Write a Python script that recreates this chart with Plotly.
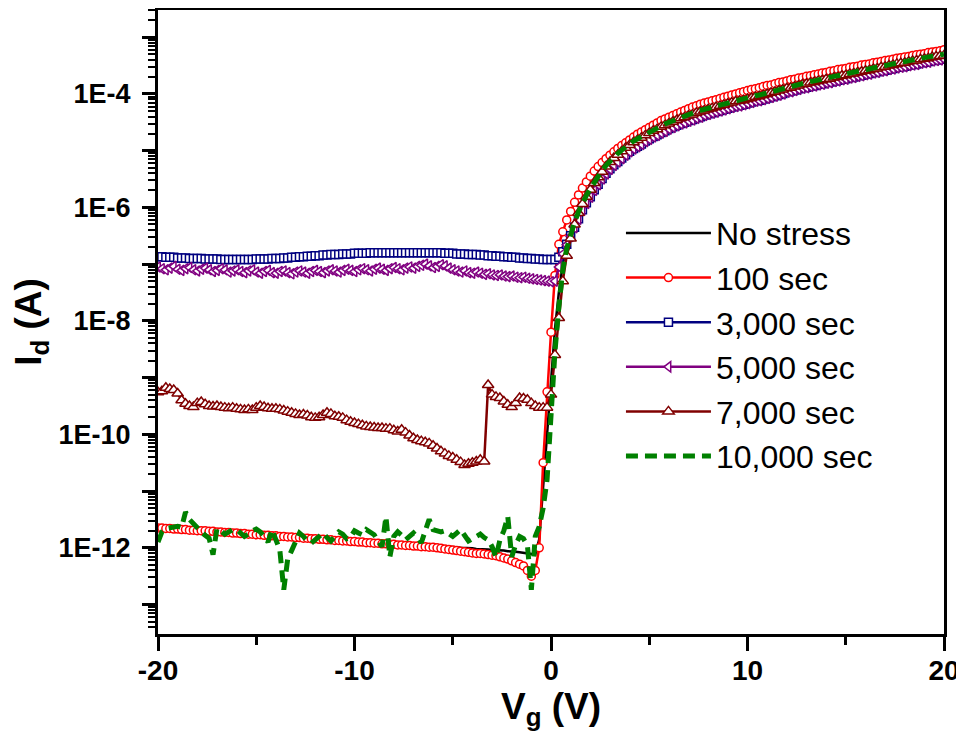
import plotly.graph_objects as go

# Gate-voltage sweep (V): -20 V to +20 V in 0.2 V steps
VG = [round(-20 + 0.2 * i, 1) for i in range(201)]

# log10(Id / A), one value per VG point
LOG_NO_STRESS = [
    -11.68,-11.68,-11.69,-11.69,-11.70,-11.70,-11.70,-11.71,-11.71,-11.72,
    -11.72,-11.72,-11.73,-11.73,-11.74,-11.74,-11.74,-11.75,-11.75,-11.76,
    -11.76,-11.76,-11.77,-11.77,-11.78,-11.78,-11.78,-11.79,-11.79,-11.80,
    -11.80,-11.80,-11.81,-11.81,-11.82,-11.82,-11.82,-11.83,-11.83,-11.84,
    -11.84,-11.84,-11.85,-11.85,-11.85,-11.86,-11.86,-11.86,-11.86,-11.86,
    -11.86,-11.87,-11.87,-11.88,-11.88,-11.89,-11.89,-11.90,-11.90,-11.91,
    -11.91,-11.92,-11.92,-11.93,-11.93,-11.94,-11.94,-11.95,-11.95,-11.96,
    -11.96,-11.97,-11.97,-11.98,-11.98,-11.99,-11.99,-12.00,-12.00,-12.01,
    -12.01,-12.02,-12.02,-12.03,-12.03,-12.04,-12.04,-12.05,-12.05,-12.06,
    -12.06,-12.07,-12.08,-12.09,-12.10,-12.11,-12.12,-11.85,-10.95,-9.95,
    -9.00,-8.15,-7.50,-7.00,-6.68,-6.45,-6.25,-6.08,-5.92,-5.79,
    -5.67,-5.55,-5.45,-5.35,-5.26,-5.18,-5.11,-5.05,-4.99,-4.93,
    -4.88,-4.83,-4.79,-4.75,-4.71,-4.67,-4.63,-4.60,-4.56,-4.53,
    -4.50,-4.47,-4.44,-4.41,-4.39,-4.36,-4.34,-4.31,-4.29,-4.27,
    -4.25,-4.23,-4.21,-4.19,-4.17,-4.15,-4.13,-4.11,-4.09,-4.08,
    -4.06,-4.04,-4.02,-4.00,-3.98,-3.96,-3.94,-3.92,-3.90,-3.88,
    -3.86,-3.85,-3.83,-3.81,-3.79,-3.78,-3.76,-3.74,-3.73,-3.71,
    -3.69,-3.68,-3.66,-3.64,-3.63,-3.61,-3.60,-3.58,-3.56,-3.55,
    -3.53,-3.52,-3.50,-3.49,-3.47,-3.45,-3.44,-3.42,-3.41,-3.39,
    -3.38,-3.36,-3.35,-3.33,-3.32,-3.30,-3.29,-3.27,-3.26,-3.24,
    -3.23,
]

LOG_100S = [
    -11.65,-11.65,-11.66,-11.66,-11.67,-11.67,-11.68,-11.68,-11.69,-11.69,
    -11.70,-11.70,-11.70,-11.71,-11.71,-11.72,-11.72,-11.73,-11.73,-11.74,
    -11.74,-11.75,-11.75,-11.76,-11.76,-11.77,-11.77,-11.78,-11.78,-11.79,
    -11.79,-11.80,-11.80,-11.81,-11.81,-11.82,-11.82,-11.83,-11.83,-11.84,
    -11.84,-11.85,-11.85,-11.86,-11.86,-11.87,-11.87,-11.88,-11.88,-11.89,
    -11.89,-11.90,-11.90,-11.91,-11.91,-11.92,-11.92,-11.93,-11.93,-11.94,
    -11.94,-11.95,-11.95,-11.96,-11.96,-11.97,-11.97,-11.98,-11.98,-11.99,
    -11.99,-12.00,-12.01,-12.02,-12.03,-12.04,-12.05,-12.06,-12.07,-12.08,
    -12.09,-12.10,-12.10,-12.11,-12.12,-12.13,-12.14,-12.16,-12.18,-12.20,
    -12.23,-12.26,-12.29,-12.32,-12.40,-12.50,-12.40,-12.00,-10.50,-9.25,
    -8.20,-7.20,-6.65,-6.43,-6.22,-6.07,-5.91,-5.78,-5.66,-5.55,
    -5.45,-5.36,-5.28,-5.21,-5.14,-5.08,-5.02,-4.96,-4.91,-4.86,
    -4.81,-4.76,-4.71,-4.67,-4.63,-4.59,-4.55,-4.51,-4.47,-4.44,
    -4.41,-4.38,-4.35,-4.32,-4.29,-4.26,-4.23,-4.21,-4.18,-4.16,
    -4.14,-4.12,-4.10,-4.08,-4.06,-4.04,-4.02,-4.00,-3.98,-3.96,
    -3.94,-3.92,-3.91,-3.89,-3.87,-3.85,-3.84,-3.82,-3.80,-3.79,
    -3.77,-3.75,-3.74,-3.72,-3.71,-3.69,-3.68,-3.66,-3.65,-3.63,
    -3.62,-3.60,-3.59,-3.57,-3.56,-3.55,-3.53,-3.52,-3.51,-3.49,
    -3.48,-3.47,-3.45,-3.44,-3.43,-3.41,-3.40,-3.39,-3.37,-3.36,
    -3.35,-3.34,-3.32,-3.31,-3.30,-3.29,-3.27,-3.26,-3.25,-3.24,
    -3.22,
]

LOG_3000S = [
    -6.87,-6.87,-6.88,-6.88,-6.88,-6.89,-6.89,-6.89,-6.90,-6.90,
    -6.90,-6.90,-6.91,-6.91,-6.91,-6.91,-6.92,-6.92,-6.92,-6.92,
    -6.92,-6.92,-6.92,-6.92,-6.92,-6.91,-6.91,-6.91,-6.91,-6.90,
    -6.90,-6.90,-6.89,-6.89,-6.88,-6.88,-6.87,-6.87,-6.86,-6.86,
    -6.85,-6.85,-6.84,-6.84,-6.83,-6.83,-6.83,-6.82,-6.82,-6.82,
    -6.81,-6.81,-6.81,-6.81,-6.80,-6.80,-6.80,-6.80,-6.80,-6.80,
    -6.80,-6.80,-6.80,-6.80,-6.80,-6.80,-6.80,-6.80,-6.80,-6.80,
    -6.80,-6.80,-6.80,-6.81,-6.81,-6.81,-6.82,-6.82,-6.82,-6.83,
    -6.83,-6.83,-6.84,-6.84,-6.85,-6.85,-6.86,-6.86,-6.87,-6.87,
    -6.88,-6.88,-6.89,-6.89,-6.90,-6.90,-6.91,-6.91,-6.92,-6.92,
    -6.92,-6.92,-6.88,-6.78,-6.65,-6.50,-6.35,-6.20,-6.04,-5.92,
    -5.81,-5.69,-5.59,-5.49,-5.40,-5.32,-5.25,-5.19,-5.13,-5.07,
    -5.01,-4.96,-4.92,-4.88,-4.83,-4.79,-4.75,-4.72,-4.68,-4.65,
    -4.61,-4.58,-4.55,-4.52,-4.50,-4.47,-4.45,-4.42,-4.40,-4.37,
    -4.35,-4.33,-4.31,-4.29,-4.27,-4.25,-4.23,-4.21,-4.20,-4.18,
    -4.16,-4.14,-4.12,-4.11,-4.09,-4.07,-4.05,-4.03,-4.01,-3.99,
    -3.96,-3.95,-3.93,-3.91,-3.89,-3.88,-3.86,-3.85,-3.83,-3.82,
    -3.80,-3.79,-3.77,-3.76,-3.74,-3.73,-3.71,-3.70,-3.68,-3.67,
    -3.65,-3.64,-3.62,-3.61,-3.59,-3.58,-3.56,-3.55,-3.53,-3.52,
    -3.51,-3.49,-3.48,-3.47,-3.45,-3.44,-3.43,-3.41,-3.40,-3.39,
    -3.38,
]

LOG_5000S = [
    -7.05,-7.08,-7.10,-7.07,-7.04,-7.09,-7.11,-7.08,-7.06,-7.10,
    -7.12,-7.09,-7.07,-7.10,-7.13,-7.11,-7.08,-7.10,-7.14,-7.12,
    -7.10,-7.13,-7.15,-7.12,-7.10,-7.14,-7.16,-7.13,-7.11,-7.15,
    -7.16,-7.13,-7.12,-7.15,-7.17,-7.14,-7.12,-7.14,-7.16,-7.13,
    -7.11,-7.13,-7.15,-7.12,-7.10,-7.12,-7.14,-7.11,-7.09,-7.11,
    -7.13,-7.10,-7.08,-7.10,-7.12,-7.09,-7.07,-7.09,-7.11,-7.08,
    -7.06,-7.08,-7.10,-7.07,-7.05,-7.07,-7.04,-7.02,-7.00,-7.03,
    -7.06,-7.04,-7.01,-7.03,-7.07,-7.10,-7.12,-7.14,-7.12,-7.15,
    -7.16,-7.14,-7.16,-7.18,-7.17,-7.19,-7.20,-7.19,-7.21,-7.22,
    -7.21,-7.23,-7.24,-7.23,-7.25,-7.26,-7.27,-7.28,-7.29,-7.30,
    -7.31,-7.30,-7.05,-6.82,-6.66,-6.51,-6.36,-6.21,-6.05,-5.93,
    -5.82,-5.70,-5.60,-5.50,-5.41,-5.33,-5.26,-5.20,-5.14,-5.08,
    -5.02,-4.97,-4.93,-4.89,-4.84,-4.80,-4.76,-4.73,-4.69,-4.66,
    -4.62,-4.59,-4.56,-4.53,-4.51,-4.48,-4.46,-4.43,-4.41,-4.38,
    -4.36,-4.34,-4.32,-4.30,-4.28,-4.26,-4.24,-4.22,-4.21,-4.19,
    -4.17,-4.15,-4.13,-4.12,-4.10,-4.08,-4.06,-4.04,-4.02,-4.00,
    -3.97,-3.96,-3.94,-3.92,-3.90,-3.89,-3.87,-3.86,-3.84,-3.83,
    -3.81,-3.80,-3.78,-3.77,-3.75,-3.74,-3.72,-3.71,-3.69,-3.68,
    -3.66,-3.65,-3.63,-3.62,-3.60,-3.59,-3.57,-3.56,-3.54,-3.53,
    -3.52,-3.50,-3.49,-3.48,-3.46,-3.45,-3.44,-3.42,-3.41,-3.40,
    -3.39,
]

LOG_7000S = [
    -9.26,-9.24,-9.18,-9.20,-9.22,-9.28,-9.40,-9.46,-9.50,-9.52,
    -9.45,-9.43,-9.47,-9.50,-9.51,-9.50,-9.52,-9.53,-9.54,-9.53,
    -9.55,-9.56,-9.57,-9.56,-9.57,-9.53,-9.50,-9.52,-9.54,-9.55,
    -9.55,-9.56,-9.58,-9.60,-9.62,-9.64,-9.66,-9.65,-9.67,-9.70,
    -9.71,-9.70,-9.66,-9.62,-9.64,-9.68,-9.69,-9.71,-9.75,-9.78,
    -9.80,-9.82,-9.84,-9.86,-9.87,-9.88,-9.89,-9.89,-9.90,-9.90,
    -9.93,-9.95,-9.92,-9.97,-10.02,-10.07,-10.10,-10.12,-10.14,-10.16,
    -10.20,-10.25,-10.30,-10.34,-10.38,-10.41,-10.45,-10.49,-10.54,-10.52,
    -10.50,-10.48,-10.45,-10.48,-9.13,-9.30,-9.34,-9.36,-9.42,-9.48,
    -9.52,-9.45,-9.36,-9.37,-9.39,-9.45,-9.50,-9.53,-9.53,-9.53,
    -9.30,-8.60,-7.95,-7.30,-6.85,-6.55,-6.30,-6.10,-5.94,-5.81,
    -5.69,-5.57,-5.47,-5.37,-5.28,-5.20,-5.13,-5.07,-5.01,-4.95,
    -4.90,-4.85,-4.81,-4.77,-4.73,-4.69,-4.65,-4.62,-4.58,-4.55,
    -4.52,-4.49,-4.46,-4.43,-4.41,-4.38,-4.36,-4.33,-4.31,-4.29,
    -4.27,-4.25,-4.23,-4.21,-4.19,-4.17,-4.15,-4.13,-4.12,-4.11,
    -4.09,-4.07,-4.05,-4.04,-4.02,-4.00,-3.98,-3.96,-3.94,-3.92,
    -3.90,-3.89,-3.87,-3.85,-3.83,-3.82,-3.80,-3.79,-3.77,-3.76,
    -3.74,-3.73,-3.71,-3.70,-3.68,-3.67,-3.65,-3.64,-3.62,-3.61,
    -3.59,-3.58,-3.56,-3.55,-3.53,-3.52,-3.50,-3.49,-3.47,-3.46,
    -3.45,-3.43,-3.42,-3.41,-3.39,-3.38,-3.37,-3.35,-3.34,-3.33,
    -3.32,
]

LOG_10000S = [
    -11.90,-11.72,-11.66,-11.65,-11.63,-11.62,-11.64,-11.37,-11.50,-11.58,
    -11.66,-11.72,-11.78,-11.83,-12.12,-11.66,-11.70,-11.76,-11.72,-11.68,
    -11.68,-11.74,-11.80,-11.76,-11.70,-11.67,-11.72,-11.80,-11.90,-11.68,
    -11.85,-12.04,-12.74,-12.20,-12.05,-11.90,-11.74,-11.80,-11.88,-11.92,
    -11.86,-11.78,-11.74,-11.82,-11.88,-11.80,-11.72,-11.76,-11.84,-11.81,
    -11.70,-11.74,-11.77,-11.68,-11.72,-11.77,-11.88,-11.98,-11.45,-12.16,
    -11.80,-11.72,-11.78,-11.86,-11.80,-11.74,-11.82,-11.91,-11.70,-11.50,
    -11.68,-11.70,-11.72,-11.70,-11.76,-11.80,-11.74,-11.68,-11.78,-11.88,
    -11.84,-11.80,-11.76,-11.82,-11.86,-11.98,-12.17,-11.86,-11.70,-11.45,
    -12.16,-11.95,-11.80,-11.84,-11.96,-12.74,-11.80,-11.63,-11.30,-10.80,
    -9.60,-8.55,-7.75,-7.10,-6.72,-6.47,-6.26,-6.08,-5.92,-5.79,
    -5.67,-5.55,-5.45,-5.35,-5.26,-5.18,-5.11,-5.05,-4.99,-4.93,
    -4.88,-4.83,-4.79,-4.75,-4.71,-4.67,-4.63,-4.60,-4.56,-4.53,
    -4.50,-4.47,-4.44,-4.41,-4.39,-4.36,-4.34,-4.31,-4.29,-4.27,
    -4.25,-4.23,-4.21,-4.19,-4.17,-4.15,-4.13,-4.11,-4.10,-4.09,
    -4.07,-4.05,-4.03,-4.02,-4.00,-3.98,-3.96,-3.94,-3.92,-3.90,
    -3.88,-3.87,-3.85,-3.83,-3.81,-3.80,-3.78,-3.77,-3.75,-3.74,
    -3.72,-3.71,-3.69,-3.68,-3.66,-3.65,-3.63,-3.62,-3.60,-3.59,
    -3.57,-3.56,-3.54,-3.53,-3.51,-3.50,-3.48,-3.47,-3.45,-3.44,
    -3.43,-3.41,-3.40,-3.39,-3.37,-3.36,-3.35,-3.33,-3.32,-3.31,
    -3.30,
]

SERIES_NAMES = ["No stress", "100 sec", "3,000 sec", "5,000 sec", "7,000 sec", "10,000 sec"]
SERIES_LOGS = [LOG_NO_STRESS, LOG_100S, LOG_3000S, LOG_5000S, LOG_7000S, LOG_10000S]
SERIES_COLORS = ["#000000", "#FF0000", "#000080", "#800080", "#800000", "#008000"]
SERIES_SYMBOLS = [None, "circle", "square", "triangle-left", "triangle-up", None]
SERIES_MSIZE = [0, 8, 8, 9, 10, 0]

Y_DECADES = list(range(-13, -2))          # -13 ... -3
Y_TICKTEXT = [("1E%d" % d) if d % 2 == 0 else "" for d in Y_DECADES]
X_TICKS = [-20, -10, 0, 10, 20]
X_TICKTEXT = ["-20", "-10", "0", "10", "20"]

fig = go.Figure()
for name, logs, col, sym, ms in zip(SERIES_NAMES, SERIES_LOGS, SERIES_COLORS,
                                    SERIES_SYMBOLS, SERIES_MSIZE):
    ids = [10 ** v for v in logs]
    if name == "10,000 sec":
        fig.add_trace(go.Scatter(x=VG, y=ids, name=name, mode="lines",
                                 line=dict(color=col, width=5, dash="12px,7px")))
    elif sym is None:
        fig.add_trace(go.Scatter(x=VG, y=ids, name=name, mode="lines",
                                 line=dict(color=col, width=2.5)))
    else:
        fig.add_trace(go.Scatter(x=VG, y=ids, name=name, mode="lines+markers",
                                 line=dict(color=col, width=2.5),
                                 marker=dict(symbol=sym, size=ms, color="white",
                                             line=dict(color=col, width=1.5))))

FAM = "Liberation Sans, Arial, sans-serif"
xtickfont = dict(family=FAM, size=28, color="black", weight="bold")
ytickfont = dict(family=FAM, size=27, color="black", weight="bold")
titlefont = dict(family=FAM, size=37, color="black", weight="bold")

# page body adds an 8 px margin, so the figure is placed at (8, 8) in the window
fig.update_layout(
    width=956, height=724,
    margin=dict(l=150, r=20, t=2, b=98),
    paper_bgcolor="white", plot_bgcolor="white",
    showlegend=True,
    legend=dict(x=0.589, y=0.6864, xanchor="left", yanchor="top",
                bgcolor="rgba(0,0,0,0)", borderwidth=0, itemwidth=85,
                font=dict(family=FAM, size=32, color="black"),
                traceorder="normal"),
    xaxis=dict(range=[-20, 20], tickvals=X_TICKS, ticktext=X_TICKTEXT,
               ticks="outside", ticklen=14, tickwidth=3, ticklabelstandoff=-5,
               tickcolor="black", showline=True, linewidth=3, linecolor="black", mirror=True,
               showgrid=False, zeroline=False, tickfont=xtickfont,
               minor=dict(dtick=5, tick0=-20, ticks="outside", ticklen=8, tickwidth=2.5,
                          tickcolor="black", showgrid=False),
               title=dict(text="V<sub>g</sub> (V)", font=titlefont, standoff=0),
               automargin=False),
    yaxis=dict(type="log", range=[-13.52, -2.52],
               tickvals=[10.0 ** d for d in Y_DECADES], ticktext=Y_TICKTEXT,
               ticks="outside", ticklen=13, tickwidth=3, tickcolor="black",
               showline=True, linewidth=3, linecolor="black", mirror=True,
               showgrid=False, zeroline=False, tickfont=ytickfont, ticklabelstandoff=6,
               minor=dict(dtick="D1", ticks="outside", ticklen=7, tickwidth=2,
                          tickcolor="black", showgrid=False),
               title=dict(text="I<sub>d</sub> (A)", font=titlefont, standoff=14),
               automargin=False),
    xaxis2=dict(overlaying="x", side="top", anchor="y", range=[-20, 20], tickvals=X_TICKS,
                ticks="inside", ticklen=11, tickwidth=3, tickcolor="black",
                showticklabels=False, showline=False, showgrid=False, zeroline=False),
    yaxis2=dict(overlaying="y", side="right", anchor="x", type="log", range=[-13.52, -2.52],
                tickvals=[10.0 ** d for d in Y_DECADES], ticks="inside", ticklen=11,
                tickwidth=3, tickcolor="black", showticklabels=False, showline=False,
                showgrid=False, zeroline=False),
)

fig.write_html("out.html")
